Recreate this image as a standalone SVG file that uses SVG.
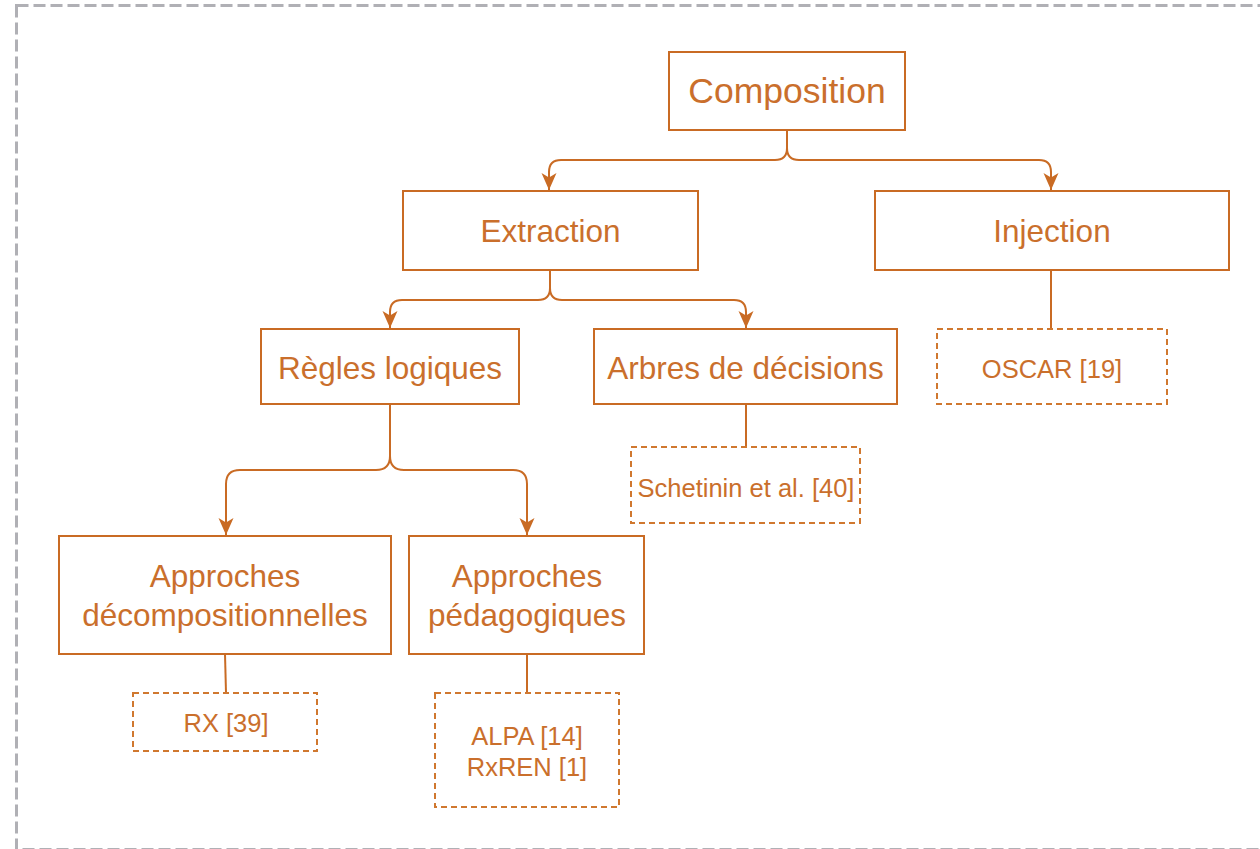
<svg xmlns="http://www.w3.org/2000/svg" width="1260" height="849" viewBox="0 0 1260 849">
<defs>
<style>
.box{fill:#fff;stroke:#c96b24;stroke-width:2}
.dbox{fill:#fff;stroke:#d0782f;stroke-width:2;stroke-dasharray:6 4}
.t{font-family:"Liberation Sans",Arial,sans-serif;font-size:31.5px;fill:#ca6f2c;text-anchor:middle;dominant-baseline:central}
.s{font-family:"Liberation Sans",Arial,sans-serif;font-size:25.5px;fill:#ca6f2c;text-anchor:middle;dominant-baseline:central}
.c{fill:none;stroke:#c96b24;stroke-width:2}
</style>
<marker id="arr" markerUnits="userSpaceOnUse" markerWidth="18" markerHeight="18" viewBox="0 0 18 18" refX="17" refY="9" orient="auto">
<path d="M0,1.5 L17,9 L0,16.5 L4.5,9 Z" fill="#c96b24"/>
</marker>
</defs>
<rect x="16.5" y="5.5" width="1270" height="844" fill="none" stroke="#b0b0b5" stroke-width="3" stroke-dasharray="12 5"/>
<g id="connectors">
<path class="c" d="M787,130 V148 Q787,160 775,160 H561 Q549,160 549,172 V190" marker-end="url(#arr)"/>
<path class="c" d="M787,130 V148 Q787,160 799,160 H1039 Q1051,160 1051,172 V190" marker-end="url(#arr)"/>
<path class="c" d="M550,270 V288 Q550,300 538,300 H402 Q390,300 390,312 V328" marker-end="url(#arr)"/>
<path class="c" d="M550,270 V288 Q550,300 562,300 H734 Q746,300 746,312 V328" marker-end="url(#arr)"/>
<path class="c" d="M390,404 V456 Q390,470 376,470 H240 Q226,470 226,484 V535" marker-end="url(#arr)"/>
<path class="c" d="M390,404 V456 Q390,470 404,470 H513 Q527,470 527,484 V535" marker-end="url(#arr)"/>
<path class="c" d="M746,404 V447"/>
<path class="c" d="M1051,270 V329"/>
<path class="c" d="M225,654 L226,693"/>
<path class="c" d="M527,654 V693"/>
</g>
<g id="composition"><rect class="box" x="669" y="52" width="236" height="78"/><text class="t" x="787" y="91" style="font-size:35.5px">Composition</text></g>
<g id="extraction"><rect class="box" x="403" y="191" width="295" height="79"/><text class="t" x="550.5" y="231">Extraction</text></g>
<g id="injection"><rect class="box" x="875" y="191" width="354" height="79"/><text class="t" x="1052" y="231">Injection</text></g>
<g id="regles"><rect class="box" x="261" y="329" width="258" height="75"/><text class="t" x="390" y="368">Règles logiques</text></g>
<g id="arbres"><rect class="box" x="594" y="329" width="303" height="75"/><text class="t" x="745.5" y="368">Arbres de décisions</text></g>
<g id="oscar"><rect class="dbox" x="937" y="329" width="230" height="75"/><text class="s" x="1052" y="369">OSCAR [19]</text></g>
<g id="schetinin"><rect class="dbox" x="631" y="447" width="229" height="76"/><text class="s" x="746" y="488">Schetinin et al. [40]</text></g>
<g id="decomp"><rect class="box" x="59" y="536" width="332" height="118"/><text class="t" x="225" y="576">Approches</text><text class="t" x="225" y="615">décompositionnelles</text></g>
<g id="pedago"><rect class="box" x="409" y="536" width="235" height="118"/><text class="t" x="527" y="576">Approches</text><text class="t" x="527" y="615">pédagogiques</text></g>
<g id="rx"><rect class="dbox" x="133" y="693" width="184" height="58"/><text class="s" x="226" y="723">RX [39]</text></g>
<g id="alpa"><rect class="dbox" x="435" y="693" width="184" height="114"/><text class="s" x="527" y="736">ALPA [14]</text><text class="s" x="527" y="767">RxREN [1]</text></g>
</svg>
